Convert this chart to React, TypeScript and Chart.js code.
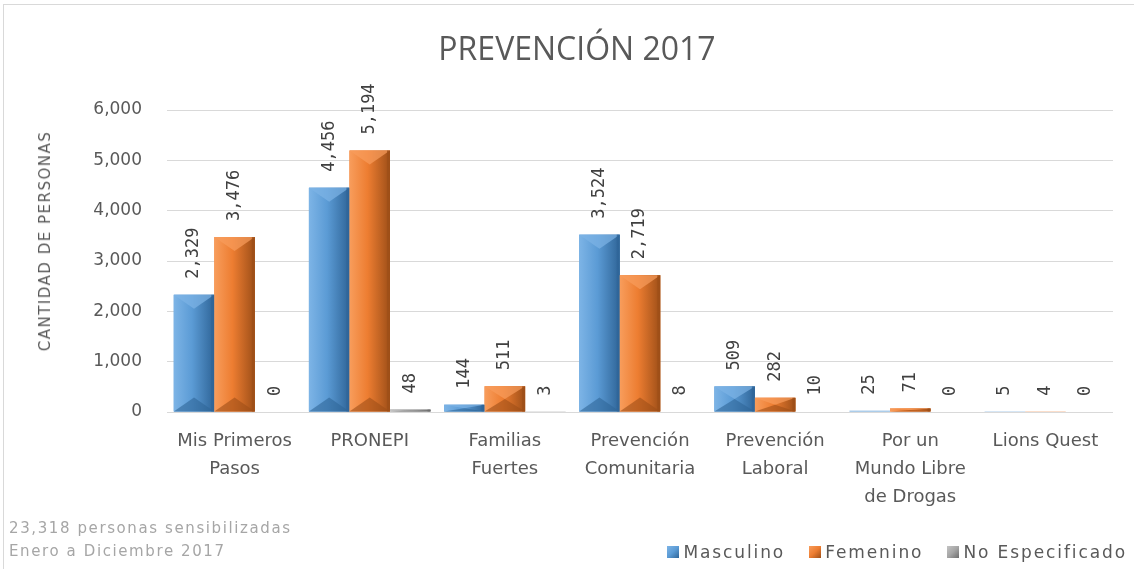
import React, { useEffect, useRef } from "react";
import { Chart, registerables } from "chart.js";

Chart.register(...registerables);

const categories: (string | string[])[] = [
  ["Mis Primeros", "Pasos"],
  "PRONEPI",
  ["Familias", "Fuertes"],
  ["Prevención", "Comunitaria"],
  ["Prevención", "Laboral"],
  ["Por un", "Mundo Libre", "de Drogas"],
  "Lions Quest",
];
const masculino = [2329, 4456, 144, 3524, 509, 25, 5];
const femenino = [3476, 5194, 511, 2719, 282, 71, 4];
const noEspecificado = [0, 48, 3, 8, 10, 0, 0];
const seriesNames = ["Masculino", "Femenino", "No Especificado"];
const yTickValues = [0, 1000, 2000, 3000, 4000, 5000, 6000];
const titleText = "PREVENCIÓN 2017";
const yAxisTitle = "CANTIDAD DE PERSONAS";
const footnoteLines = ["23,318 personas sensibilizadas", "Enero a Diciembre 2017"];

const palettes = [
  { base: "#5b9bd5", light: "#7db4e6", dark: "#2f6598" },
  { base: "#ed7d31", light: "#f89d5c", dark: "#9e4f18" },
  { base: "#a5a5a5", light: "#c4c4c4", dark: "#6e6e6e" },
];

const bevelPlugin = {
  id: "bevel",
  afterDatasetsDraw(chart: any) {
    const ctx = chart.ctx;
    chart.data.datasets.forEach((ds: any, di: number) => {
      const meta = chart.getDatasetMeta(di);
      const pal = palettes[di];
      meta.data.forEach((el: any) => {
        const { x, y, base, width } = el.getProps(["x", "y", "base", "width"], true);
        const l = x - width / 2;
        const r = x + width / 2;
        const t = Math.min(y, base);
        const b = Math.max(y, base);
        const h = b - t;
        if (h < 1) return;
        ctx.save();
        const g = ctx.createLinearGradient(l, 0, r, 0);
        g.addColorStop(0, pal.light);
        g.addColorStop(0.45, pal.base);
        g.addColorStop(1, pal.dark);
        ctx.fillStyle = g;
        ctx.fillRect(l, t, width, h);
        const th = Math.min(14, h / 2);
        ctx.fillStyle = pal.light;
        ctx.globalAlpha = 0.7;
        ctx.beginPath();
        ctx.moveTo(l, t);
        ctx.lineTo(r, t);
        ctx.lineTo(x, t + th);
        ctx.closePath();
        ctx.fill();
        ctx.fillStyle = pal.dark;
        ctx.globalAlpha = 0.6;
        ctx.beginPath();
        ctx.moveTo(l, b);
        ctx.lineTo(r, b);
        ctx.lineTo(x, b - th);
        ctx.closePath();
        ctx.fill();
        ctx.globalAlpha = 0.8;
        ctx.fillRect(r - 3, t, 3, h);
        ctx.restore();
      });
    });
  },
};

const dataLabelPlugin = {
  id: "dataLabels",
  afterDatasetsDraw(chart: any) {
    const ctx = chart.ctx;
    ctx.save();
    ctx.font = "17px 'DejaVu Sans Mono'";
    ctx.fillStyle = "#404040";
    ctx.textAlign = "left";
    ctx.textBaseline = "middle";
    chart.data.datasets.forEach((ds: any, di: number) => {
      const meta = chart.getDatasetMeta(di);
      meta.data.forEach((el: any, i: number) => {
        const { x, y } = el.getProps(["x", "y"], true);
        const v = ds.data[i];
        ctx.save();
        ctx.translate(x, y - 16);
        ctx.rotate(-Math.PI / 2);
        ctx.fillText(v.toLocaleString("en-US"), 0, 0);
        ctx.restore();
      });
    });
    ctx.restore();
  },
};

function LegendSwatch({ idx }: { idx: number }) {
  const p = palettes[idx];
  return (
    <span
      style={{
        display: "inline-block",
        width: 12,
        height: 12,
        background: `linear-gradient(135deg, ${p.light} 0%, ${p.base} 50%, ${p.dark} 100%)`,
        marginRight: 4,
      }}
    />
  );
}

export default function App() {
  const canvasRef = useRef<HTMLCanvasElement | null>(null);

  useEffect(() => {
    if (!canvasRef.current) return;
    const seriesData = [masculino, femenino, noEspecificado];
    const chart = new Chart(canvasRef.current, {
      type: "bar",
      data: {
        labels: categories as any,
        datasets: seriesData.map((d, i) => ({
          label: seriesNames[i],
          data: d,
          backgroundColor: palettes[i].base,
          borderWidth: 0,
          barPercentage: 1,
          categoryPercentage: 0.9,
        })),
      },
      options: {
        responsive: false,
        animation: false,
        layout: { padding: { top: 110, right: 21, bottom: 0, left: 0 } },
        plugins: {
          legend: { display: false },
          title: { display: false },
          tooltip: { enabled: false },
        },
        scales: {
          x: {
            grid: { display: false, drawTicks: false },
            border: { display: false },
            ticks: {
              color: "#595959",
              font: { family: "'DejaVu Sans'", size: 18, lineHeight: 1.53 },
              padding: 16,
              maxRotation: 0,
              autoSkip: false,
            },
            afterFit: (scale: any) => {
              scale.height = 157;
            },
          },
          y: {
            min: 0,
            max: 6000,
            afterBuildTicks: (scale: any) => {
              scale.ticks = yTickValues.map((v) => ({ value: v }));
            },
            grid: { color: "#d9d9d9", lineWidth: 1, drawTicks: false },
            border: { display: false },
            ticks: {
              color: "#595959",
              font: { family: "'DejaVu Sans'", size: 17 },
              padding: 25,
              callback: (v: any) => Number(v).toLocaleString("en-US"),
            },
            afterFit: (scale: any) => {
              scale.width = 167;
            },
          },
        },
      },
      plugins: [bevelPlugin, dataLabelPlugin],
    });
    return () => chart.destroy();
  }, []);

  return (
    <div
      style={{
        position: "fixed",
        left: 0,
        top: 0,
        width: 1134,
        height: 569,
        background: "#ffffff",
        overflow: "hidden",
      }}
    >
      <div
        style={{
          position: "absolute",
          left: 3,
          top: 4,
          width: 1160,
          height: 600,
          border: "1px solid #d9d9d9",
        }}
      />
      <canvas ref={canvasRef} width={1134} height={569} style={{ position: "absolute", left: 0, top: 0 }} />
      <div
        style={{
          position: "absolute",
          left: 0,
          width: 1134,
          top: 27,
          textAlign: "center",
          font: "32px 'Open Sans'",
          color: "#595959",
          lineHeight: "42px",
          paddingLeft: 10,
        }}
      >
        {titleText}
      </div>
      <div
        style={{
          position: "absolute",
          left: 45,
          top: 241,
          transform: "translate(-50%, -50%) rotate(-90deg)",
          whiteSpace: "nowrap",
          font: "15px 'DejaVu Sans'",
          letterSpacing: "1.5px",
          color: "#595959",
        }}
      >
        {yAxisTitle}
      </div>
      <div
        style={{
          position: "absolute",
          left: 9,
          top: 517,
          font: "15px 'DejaVu Sans'",
          letterSpacing: "1.6px",
          color: "#a6a6a6",
          lineHeight: "23px",
        }}
      >
        {footnoteLines.map((l, i) => (
          <div key={i}>{l}</div>
        ))}
      </div>
      <div
        style={{
          position: "absolute",
          right: 7,
          top: 541,
          display: "flex",
          alignItems: "center",
          font: "17px 'DejaVu Sans'",
          letterSpacing: "1.9px",
          color: "#595959",
          lineHeight: "22px",
        }}
      >
        {seriesNames.map((n, i) => (
          <span key={i} style={{ display: "flex", alignItems: "center", marginLeft: i === 0 ? 0 : 24 }}>
            <LegendSwatch idx={i} />
            {n}
          </span>
        ))}
      </div>
    </div>
  );
}
